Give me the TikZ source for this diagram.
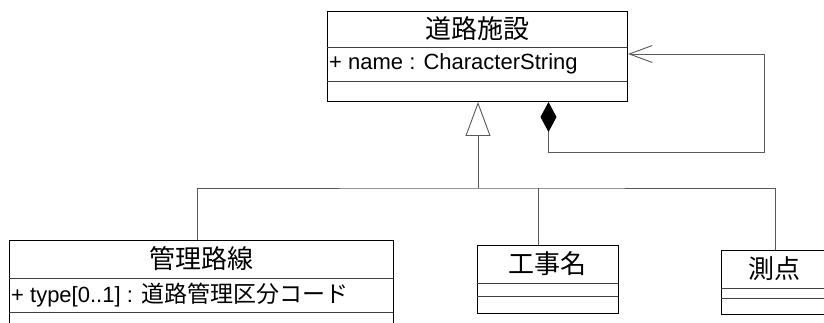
\documentclass[tikz,border=0pt]{standalone}
\usepackage{fontspec}
\setmainfont{Liberation Sans}
\newfontfamily\jp{Noto Sans CJK JP}
\usetikzlibrary{arrows.meta}
\tikzset{
  classbox/.style={draw=black, line width=1pt, rectangle, inner sep=0pt, anchor=north west},
  divider/.style={draw=black!75, line width=0.9pt},
  conn/.style={draw=black!65, line width=0.9pt},
  titletext/.style={font=\jp\fontsize{26}{28}\selectfont, inner sep=0pt},
  attrtext/.style={font=\fontsize{22}{24}\selectfont, inner sep=0pt, anchor=west},
}
\begin{document}
\begin{tikzpicture}[x=1pt,y=-1pt]
\useasboundingbox (0,0) rectangle (824,323);
\clip (0,0) rectangle (824,323);
\fill[white] (0,0) rectangle (824,323);
% top class
\node[classbox, minimum width=300pt, minimum height=90pt] (top) at (327,11) {};
\draw[divider] (327,47) -- (627,47);
\draw[divider] (327,81) -- (627,81);
\node[titletext] (toptitle) at (477,29) {道路施設};
\node[attrtext] (topattr) at (329,64) {+ name : CharacterString};
% kanri
\node[classbox, minimum width=384pt, minimum height=100pt] (kanri) at (9,240) {};
\draw[divider] (9,278) -- (393,278);
\draw[divider] (9,312) -- (393,312);
\node[titletext] (kanrititle) at (201,259) {管理路線};
\node[attrtext] (kanriattr) at (11,295) {+ type[0..1] : {\jp\fontsize{23}{24}\selectfont 道路管理区分コード}};
% kouji
\node[classbox, minimum width=141pt, minimum height=68pt] (kouji) at (477,245) {};
\draw[divider] (477,283) -- (618,283);
\draw[divider] (477,296) -- (618,296);
\node[titletext] (koujititle) at (547.5,264) {工事名};
% sokuten
\node[classbox, minimum width=108pt, minimum height=64pt] (sokuten) at (721,250) {};
\draw[divider] (721,288) -- (829,288);
\draw[divider] (721,298) -- (829,298);
\node[titletext] (sokutentitle) at (774,269) {測点};
% generalization
\coordinate (b0) at (478,188);
\draw[conn, -{Triangle[open, length=34pt, width=25pt, line width=0.9pt, fill=white]}] (b0) -- (b0 |- top.south);
\draw[conn] ([xshift=-4pt]kanri.north) |- (b0) -| (sokuten.north);
\draw[conn] ([xshift=-9.5pt]kouji.north) -- ([xshift=-9.5pt]kouji.north |- b0);
% composition self association
\coordinate (c1) at (764,152);
\coordinate (c2) at (764,54);
\draw[conn, {Diamond[length=30pt, width=16pt, fill=black, black]}-{Straight Barb[length=23pt, width=17pt, line width=0.9pt]}]
  ([xshift=71pt]top.south) |- (c1) -- (c2) -- (top.east |- c2);
\end{tikzpicture}
\end{document}
